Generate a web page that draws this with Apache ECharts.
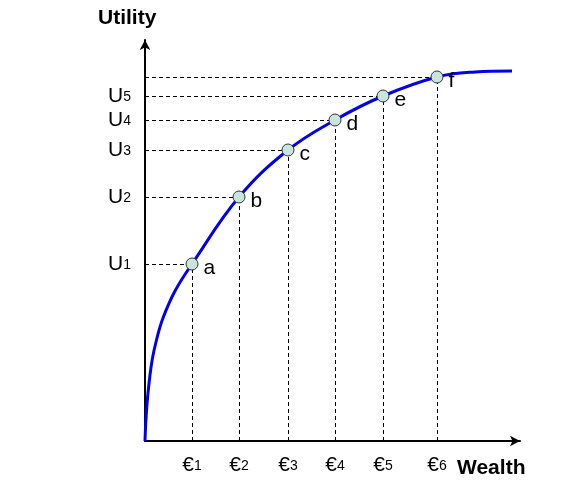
<!DOCTYPE html>
<html><head><meta charset="utf-8">
<script src="https://cdn.jsdelivr.net/npm/echarts@6/dist/echarts.min.js"></script>
<style>body{margin:0}#c{width:562px;height:487px}</style></head>
<body><div id="c"></div>
<script>
var pointNames = ['a', 'b', 'c', 'd', 'e', 'f'];
var wealth = [47, 94, 143, 190, 238, 292];
var utility = [177, 244, 291, 321, 345, 364];
var curveX = [0, 1, 3, 7, 12, 18, 30, 47, 94, 143, 190, 238, 292, 330, 367];
var curveY = [0, 22, 48, 80, 103, 123, 150, 177, 244, 291, 321, 345, 364, 369, 370];

var font = 'Liberation Sans, Arial, sans-serif';
var rich = {
  b: { fontSize: 21, color: '#000', fontFamily: font, lineHeight: 16 },
  s: { fontSize: 14, color: '#000', fontFamily: font, verticalAlign: 'bottom', lineHeight: 16, padding: [8, 0, 0, 0] }
};
var lines = [];
wealth.forEach(function (x, i) {
  lines.push([{ coord: [0, utility[i]] }, { coord: [x, utility[i]] }]);
  lines.push([{ coord: [x, 0] }, { coord: [x, utility[i]] }]);
});

var chart = echarts.init(document.getElementById('c'));
chart.setOption({
  animation: false,
  grid: { left: 145, right: 42, top: 40, bottom: 46 },
  graphic: [
    { type: 'text', left: 98, top: 8, style: { text: 'Utility', font: 'bold 21px ' + font, fill: '#000' } },
    { type: 'text', left: 457, top: 458, style: { text: 'Wealth', font: 'bold 21px ' + font, fill: '#000' } }
  ],
  xAxis: {
    type: 'value', min: 0, max: 375,
    splitLine: { show: false },
    axisLine: { lineStyle: { color: '#000', width: 2 }, symbol: ['none', 'arrow'], symbolSize: [8, 10] },
    axisTick: { show: false },
    axisLabel: {
      customValues: wealth, margin: 16, hideOverlap: false,
      formatter: function (v) { return '{b|€}{s|' + (wealth.indexOf(v) + 1) + '}'; },
      rich: rich
    }
  },
  yAxis: {
    type: 'value', min: 0, max: 401,
    splitLine: { show: false },
    axisLine: { lineStyle: { color: '#000', width: 2 }, symbol: ['none', 'arrow'], symbolSize: [8, 10] },
    axisTick: { show: false },
    axisLabel: {
      customValues: utility, margin: 14, hideOverlap: false,
      formatter: function (v) { return '{b|U}{s|' + (utility.indexOf(v) + 1) + '}'; },
      rich: rich
    }
  },
  series: [
    {
      type: 'line', smooth: 0.4, showSymbol: false,
      data: curveX.map(function (x, i) { return [x, curveY[i]]; }),
      lineStyle: { color: '#0000ee', width: 3 },
      markLine: {
        silent: true, symbol: 'none', label: { show: false },
        lineStyle: { color: '#000', type: [4, 3], width: 1 },
        data: lines
      }
    },
    {
      type: 'scatter', symbolSize: 12,
      data: wealth.map(function (x, i) { return [x, utility[i], pointNames[i]]; }),
      itemStyle: { color: '#c8e4dc', borderColor: '#333', borderWidth: 1, opacity: 1 },
      label: {
        show: true, position: 'right', offset: [0, 4],
        formatter: function (p) { return p.data[2]; },
        fontSize: 21, color: '#000', fontFamily: font
      },
      z: 5
    }
  ]
});
</script></body></html>
